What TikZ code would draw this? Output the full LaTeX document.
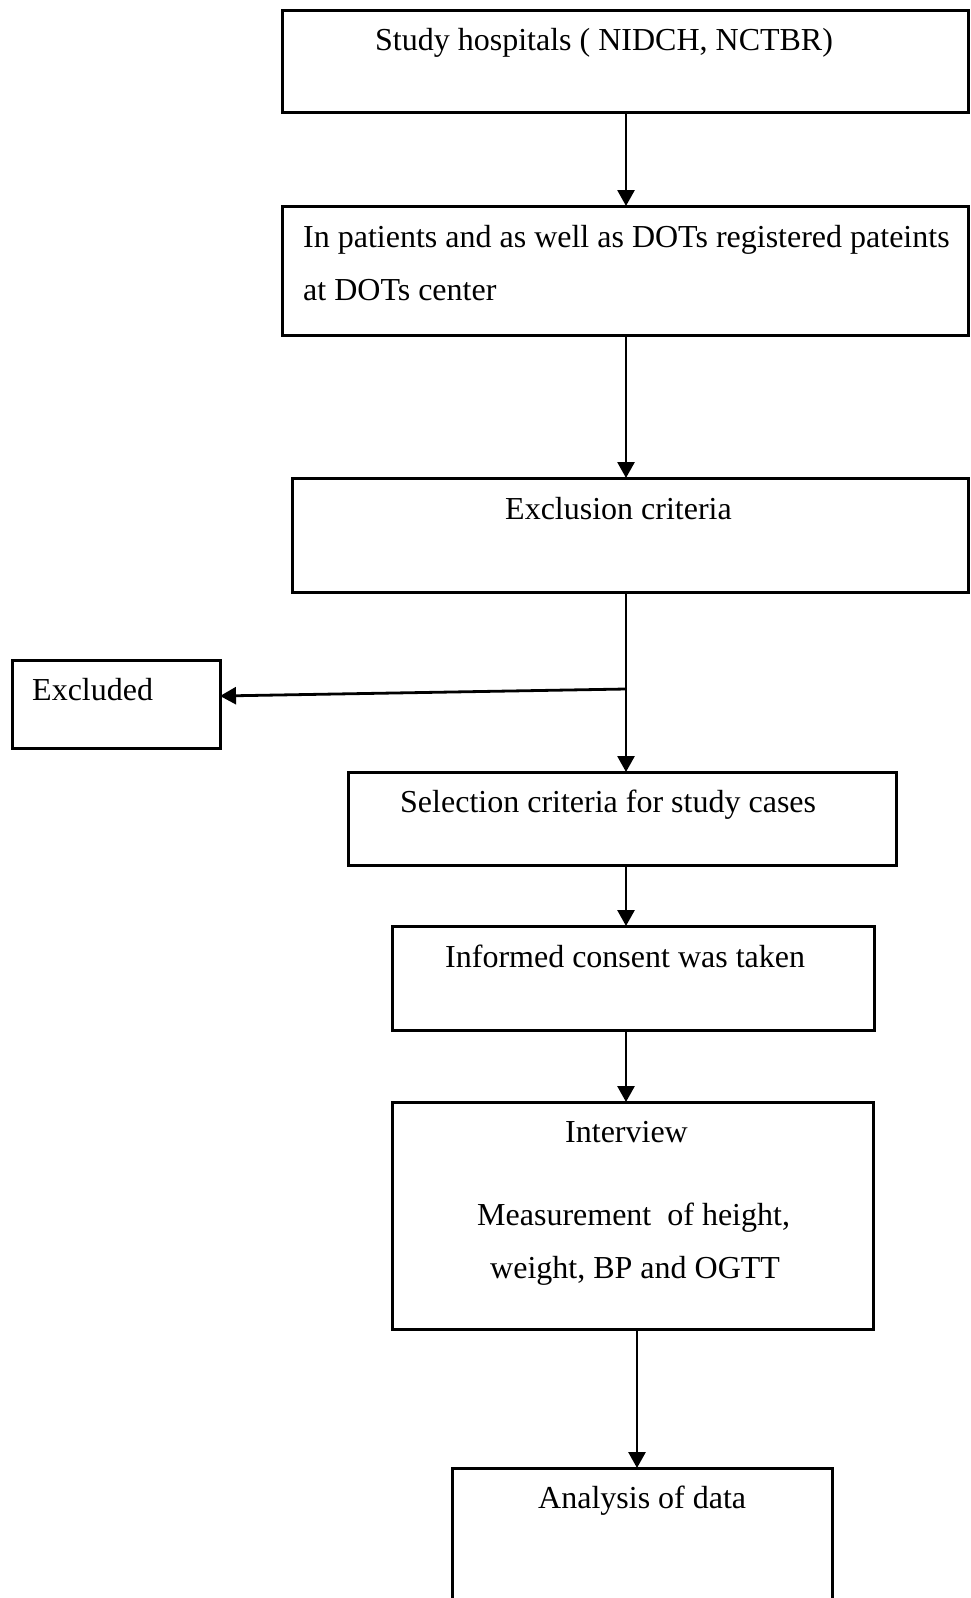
\documentclass[tikz,border=0pt]{standalone}
\usepackage{fontspec}
\setmainfont{Liberation Serif}
\usetikzlibrary{arrows.meta,calc}
\begin{document}
\begin{tikzpicture}[x=1pt,y=-1pt,
  box/.style={draw,line width=3pt,rectangle,inner sep=0pt,outer sep=0pt,anchor=north west},
  lbl/.style={inner sep=0pt,anchor=base west,font=\fontsize{32}{38}\selectfont},
  arr/.style={line width=2.8pt,-{Triangle[width=17pt,length=16pt]}}]
\useasboundingbox (0,0) rectangle (970,1598);
\clip (0,0) rectangle (970,1598);
\fill[white] (0,0) rectangle (970,1598);

% boxes
\node[box,minimum width=686pt,minimum height=102pt] (b1) at (282,10) {};
\node[box,minimum width=686pt,minimum height=129pt] (b2) at (282,206) {};
\node[box,minimum width=676pt,minimum height=114pt] (b3) at (292,478) {};
\node[box,minimum width=208pt,minimum height=88pt] (ex) at (12,660) {};
\node[box,minimum width=548pt,minimum height=93pt] (sel) at (348,772) {};
\node[box,minimum width=482pt,minimum height=104pt] (inf) at (392,926) {};
\node[box,minimum width=481pt,minimum height=227pt] (int) at (392,1102) {};
\node[box,minimum width=380pt,minimum height=172pt] (ana) at (452,1468) {};

% texts
\node[lbl] (t1) at (375,50) {Study hospitals ( NIDCH, NCTBR)};
\node[lbl] (t2a) at (303,247) {In patients and as well as DOTs registered pateints};
\node[lbl] (t2b) at (303,300) {at DOTs center};
\node[lbl] (t3) at (505,519) {Exclusion criteria};
\node[lbl] (tex) at (32,700) {Excluded};
\node[lbl] (tsel) at (400,812) {Selection criteria for study cases};
\node[lbl] (tinf) at (445,967) {Informed consent was taken};
\node[lbl] (tint1) at (565,1142) {Interview};
\node[lbl] (tint2) at (477,1225) {Measurement\ \ of height,};
\node[lbl] (tint3) at (490,1278) {weight, BP and OGTT};
\node[lbl] (tana) at (538,1508) {Analysis of data};

% connectors
\coordinate (ax) at (626,0);
\coordinate (ax2) at (637,0);
\coordinate (br) at (626,689);
\draw[arr] (b1.south -| ax) -- (b2.north -| ax);
\draw[arr] (b2.south -| ax) -- (b3.north -| ax);
\draw[arr] (b3.south -| ax) -- (sel.north -| ax);
\draw[arr] (br) -- ($(ex.north east)+(0,36)$);
\draw[arr] (sel.south -| ax) -- (inf.north -| ax);
\draw[arr] (inf.south -| ax) -- (int.north -| ax);
\draw[arr] (int.south -| ax2) -- (ana.north -| ax2);
\end{tikzpicture}
\end{document}
